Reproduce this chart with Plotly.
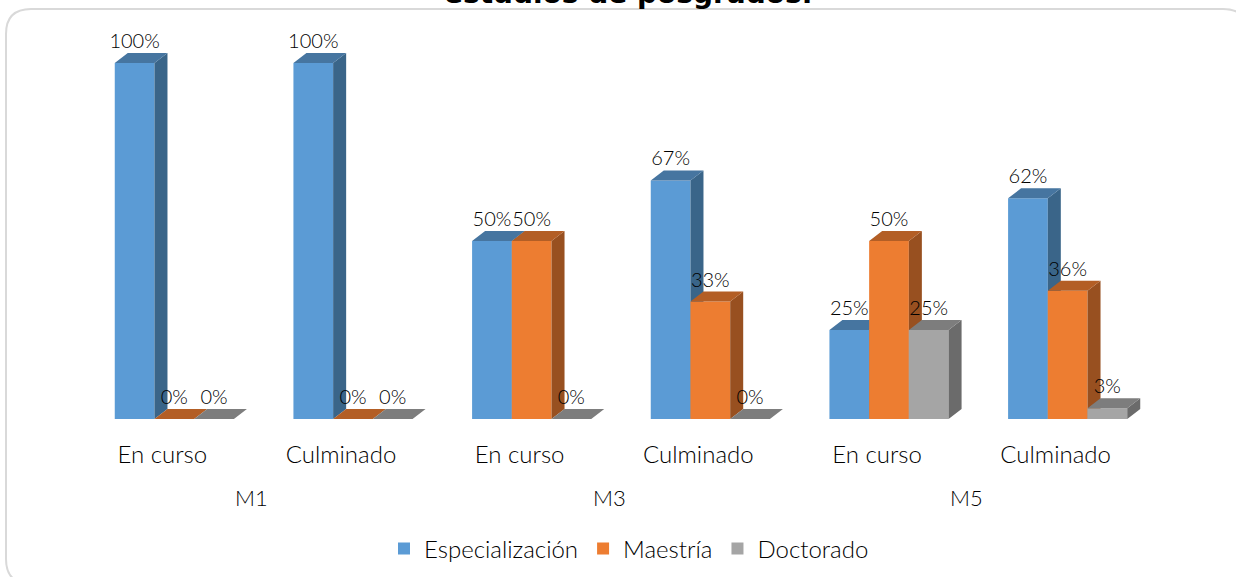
import plotly.graph_objects as go

W = 1236
H = 577

# pixel frame of the plot area
PLOT_L, PLOT_R = 85, 1157
PLOT_T, PLOT_B = 35, 419
Y_MAX = 100 * (PLOT_B - PLOT_T) / 356

categories = ["En curso", "Culminado", "En curso", "Culminado", "En curso", "Culminado"]
groups = ["M1", "M3", "M5"]
especializacion = [100, 100, 50, 67, 25, 62]
maestria = [0, 0, 50, 33, 50, 36]
doctorado = [0, 0, 0, 0, 25, 3]
series_names = ["Especialización", "Maestría", "Doctorado"]
front_colors = ["#5B9BD5", "#ED7D31", "#A5A5A5"]
top_colors = ["#4675A0", "#B35E25", "#7D7D7D"]
side_colors = ["#3A6589", "#985020", "#6B6B6B"]

FONT = "Lato"
TXT = "#000000"

# 3d look: depth of a bar in axis units
BAR_W = 39.7 / 178.6
DX = 13 / 178.6
DY = 10 * Y_MAX / (PLOT_B - PLOT_T)
LABEL_SHIFT = 12 / 178.6


def px_x(p):
    return (p - PLOT_L) / (PLOT_R - PLOT_L)


def px_y(p):
    return (PLOT_B - p) / (PLOT_B - PLOT_T)


fig = go.Figure()
xs = list(range(len(categories)))
all_series = [especializacion, maestria, doctorado]

for s, vals in enumerate(all_series):
    axis_suffix = "" if s == 0 else str(s + 1)
    offset = (s - 1) * BAR_W
    centers = [i + offset for i in xs]

    # front face
    fig.add_trace(go.Bar(x=centers, y=vals, width=BAR_W, name=series_names[s],
                         marker=dict(color=front_colors[s], line=dict(width=0)),
                         xaxis="x" + axis_suffix, yaxis="y" + axis_suffix))

    # side and top face of every bar, one filled path per series
    side_x, side_y, top_x, top_y = [], [], [], []
    for c, v in zip(centers, vals):
        r = c + BAR_W / 2
        l = c - BAR_W / 2
        side_x += [r, r + DX, r + DX, r, r, None]
        side_y += [0, DY, v + DY, v, 0, None]
        top_x += [l, l + DX, r + DX, r, l, None]
        top_y += [v, v + DY, v + DY, v, v, None]
    fig.add_trace(go.Scatter(x=side_x, y=side_y, mode="lines", fill="toself", fillcolor=side_colors[s],
                             line=dict(width=0), showlegend=False, hoverinfo="skip",
                             xaxis="x" + axis_suffix, yaxis="y" + axis_suffix))
    fig.add_trace(go.Scatter(x=top_x, y=top_y, mode="lines", fill="toself", fillcolor=top_colors[s],
                             line=dict(width=0), showlegend=False, hoverinfo="skip",
                             xaxis="x" + axis_suffix, yaxis="y" + axis_suffix))

# value labels go last so they sit on top of everything
for s, vals in enumerate(all_series):
    offset = (s - 1) * BAR_W
    fig.add_trace(go.Scatter(x=[i + offset for i in xs], y=[v + DY for v in vals], mode="text",
                             text=[str(v) + "%" for v in vals], textposition="top center",
                             textfont=dict(family=FONT, size=20, color=TXT, weight=300),
                             cliponaxis=False, showlegend=False, hoverinfo="skip",
                             xaxis="x3", yaxis="y3"))

for g, name in enumerate(groups):
    fig.add_annotation(x=2 * g + 0.5 - LABEL_SHIFT, y=px_y(497), xref="x", yref="paper", text=name, yanchor="middle",
                       showarrow=False, font=dict(family=FONT, size=22, color=TXT, weight=300))

fig.add_annotation(x=px_x(628), y=px_y(12), xref="paper", yref="paper", text="<b>estudios de posgrados.</b>",
                   showarrow=False, yanchor="bottom", font=dict(family="DejaVu Sans", size=28, color="black"))

# rounded frame of the chart, it runs off the page on the right and at the bottom
l, r, t, b = px_x(6), px_x(1248), px_y(9), px_y(584)
cx, cy = px_x(31) - px_x(6), px_y(9) - px_y(34)
frame = (f"M {l + cx} {t} L {r - cx} {t} Q {r} {t} {r} {t - cy} L {r} {b + cy} Q {r} {b} {r - cx} {b} "
         f"L {l + cx} {b} Q {l} {b} {l} {b + cy} L {l} {t - cy} Q {l} {t} {l + cx} {t} Z")
fig.add_shape(type="path", path=frame, xref="paper", yref="paper", line=dict(color="#D9D9D9", width=2),
              layer="below")

hidden = dict(range=[-0.5, 5.5], showgrid=False, zeroline=False, showticklabels=False, ticks="")
fig.update_layout(
    width=W, height=H,
    margin=dict(l=PLOT_L, r=W - PLOT_R, t=PLOT_T, b=H - PLOT_B, autoexpand=False),
    paper_bgcolor="white", plot_bgcolor="rgba(0,0,0,0)",
    barmode="overlay", showlegend=True,
    legend=dict(orientation="h", x=px_x(629), xanchor="center", y=px_y(549), yanchor="middle",
                font=dict(family=FONT, size=24, color=TXT, weight=300), itemsizing="constant"),
    xaxis=dict(range=[-0.5, 5.5], showgrid=False, zeroline=False, ticks="", showline=False, automargin=False,
               tickvals=[i - LABEL_SHIFT for i in xs], ticktext=categories, ticklabelstandoff=19,
               tickfont=dict(family=FONT, size=24, color=TXT, weight=300)),
    yaxis=dict(range=[0, Y_MAX], visible=False),
    xaxis2=dict(hidden, overlaying="x"),
    yaxis2=dict(range=[0, Y_MAX], visible=False, overlaying="y"),
    xaxis3=dict(hidden, overlaying="x"),
    yaxis3=dict(range=[0, Y_MAX], visible=False, overlaying="y"),
)

# the default page has an 8px body margin, which would push the figure off the frame
fig.write_html("out.html", config={"displayModeBar": False}, post_script="document.body.style.margin='0';")
